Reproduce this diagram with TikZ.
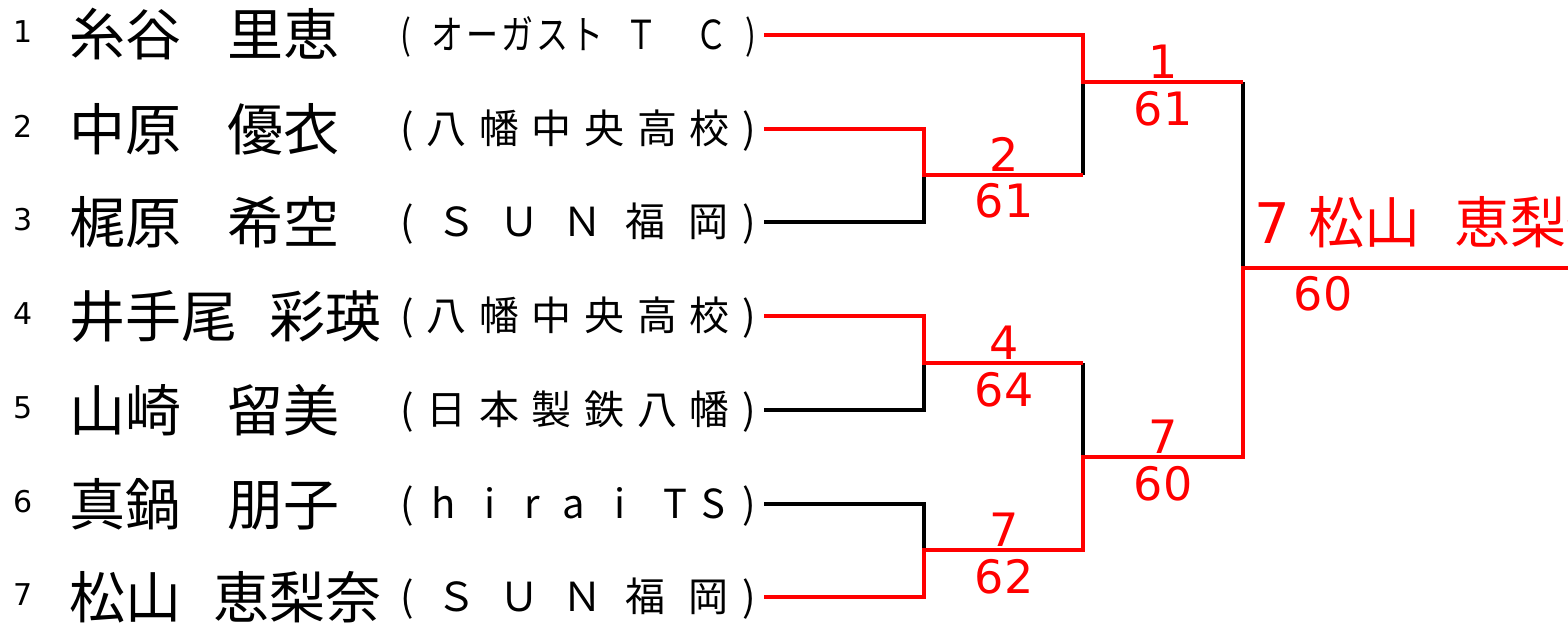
\documentclass[tikz,border=0pt]{standalone}
\usepackage{fontspec}
\usepackage{graphicx}
\usepackage{tikz}
\usetikzlibrary{positioning}
\newfontfamily\jpfont{Noto Sans CJK JP}
\newfontfamily\numfont{DejaVu Sans}
\newcommand{\gp}[1]{\hskip 0pt plus #1fil}
\newcommand{\clubbox}[1]{\makebox[356pt][s]{#1}}
\tikzstyle{seed}=[anchor=base, inner sep=0pt, font=\numfont\fontsize{30}{30}\selectfont]
\tikzstyle{player}=[anchor=base west, inner sep=0pt, font=\jpfont\fontsize{56}{56}\selectfont]
\tikzstyle{club}=[anchor=base west, inner sep=0pt, font=\jpfont\fontsize{40}{40}\selectfont]
\tikzstyle{score}=[anchor=base, inner sep=0pt, text=red, font=\numfont\fontsize{46}{46}\selectfont]
\tikzstyle{won}=[draw=red, line width=3.5pt, line join=miter]
\tikzstyle{lost}=[draw=black, line width=3.5pt, line join=miter]

\begin{document}
\begin{tikzpicture}[x=1pt, y=-1pt]
\useasboundingbox (0,0) rectangle (1568,626);
\clip (0,0) rectangle (1568,626);

\node[seed] (n1) at (23,43) {1};
\node[seed] (n2) at (23,137) {2};
\node[seed] (n3) at (23,230) {3};
\node[seed] (n4) at (23,324) {4};
\node[seed] (n5) at (23,418) {5};
\node[seed] (n6) at (23,512) {6};
\node[seed] (n7) at (23,605) {7};

\node[player] (p1) at (69,56) {糸谷\hspace{46pt}里恵};
\node[player] (p2) at (69,150) {中原\hspace{46pt}優衣};
\node[player] (p3) at (69,243) {梶原\hspace{46pt}希空};
\node[player] (p4) at (69,337) {井手尾\hspace{32pt}彩瑛};
\node[player] (p5) at (69,431) {山崎\hspace{46pt}留美};
\node[player] (p6) at (69,525) {真鍋\hspace{46pt}朋子};
\node[player] (p7) at (69,618) {松山\hspace{32pt}恵梨奈};

\node[club] (c1) at (400,49) {\scalebox{0.8}[1]{\makebox[445pt][s]{(\gp{7}オ\gp1ー\gp1ガ\gp1ス\gp1ト\gp{7.3}Ｔ\gp{12.7}Ｃ\gp6)}}};
\node[club] (c2) at (400,143) {\clubbox{(\gp1八\gp1幡\gp1中\gp1央\gp1高\gp1校\gp1)}};
\node[club] (c3) at (400,236) {\clubbox{(\gp1Ｓ\gp1Ｕ\gp1Ｎ\gp1福\gp1岡\gp{0.6})}};
\node[club] (c4) at (400,330) {\clubbox{(\gp1八\gp1幡\gp1中\gp1央\gp1高\gp1校\gp1)}};
\node[club] (c5) at (400,424) {\clubbox{(\gp1日\gp1本\gp1製\gp1鉄\gp1八\gp1幡\gp1)}};
\node[club] (c6) at (400,518) {\clubbox{(\gp{0.6}h\gp1i\gp1r\gp{0.8}a\gp1i\gp{1.3}T\gp{0.5}S\gp{0.6})}};
\node[club] (c7) at (400,611) {\clubbox{(\gp1Ｓ\gp1Ｕ\gp1Ｎ\gp1福\gp1岡\gp{0.6})}};

% line starts
\coordinate (s1) at (764,35);
\coordinate (s2) at (764,129);
\coordinate (s3) at (764,222);
\coordinate (s4) at (764,316);
\coordinate (s5) at (764,410);
\coordinate (s6) at (764,504);
\coordinate (s7) at (764,597);
% first round
\coordinate (b2) at (924,129);
\coordinate (b3) at (924,222);
\coordinate (b4) at (924,316);
\coordinate (b5) at (924,410);
\coordinate (b6) at (924,504);
\coordinate (b7) at (924,597);
\coordinate (m23) at (924,175);
\coordinate (m45) at (924,363);
\coordinate (m67) at (924,550);
\coordinate (e23) at (1083,175);
\coordinate (e45) at (1083,363);
\coordinate (e67) at (1083,550);
% second round
\coordinate (b1) at (1083,35);
\coordinate (m1) at (1083,82);
\coordinate (m47) at (1083,457);
\coordinate (e1) at (1243,82);
\coordinate (e47) at (1243,457);
% final
\coordinate (mf) at (1243,268);
\coordinate (fin) at (1568,268);

\draw[lost] (s3) -- (b3) -- (m23);
\draw[lost] (s5) -- (b5) -- (m45);
\draw[lost] (s6) -- (b6) -- (m67);
\draw[lost] (m1) -- (e23);
\draw[lost] (e45) -- (m47);
\draw[lost] (e1) -- (mf);

\draw[won] (s1) -- (b1) -- (m1) -- (e1);
\draw[won] (s2) -- (b2) -- (m23) -- (e23);
\draw[won] (s4) -- (b4) -- (m45) -- (e45);
\draw[won] (s7) -- (b7) -- (m67) -- (e67) -- (m47) -- (e47) -- (mf) -- (fin);

\node[score] (w23) at (1004,171) {2};
\node[score] (r23) at (1004,217) {61};
\node[score] (w45) at (1004,359) {4};
\node[score] (r45) at (1004,406) {64};
\node[score] (w67) at (1004,546) {7};
\node[score] (r67) at (1004,593) {62};
\node[score] (w1) at (1163,78) {1};
\node[score] (r1) at (1163,125) {61};
\node[score] (w47) at (1163,453) {7};
\node[score] (r47) at (1163,500) {60};
\node[score] (rf) at (1323,310) {60};

\node[anchor=base west, inner sep=0pt, text=red, font=\jpfont\fontsize{56}{56}\selectfont] (champ) at (1254,243) {{\numfont 7}\hspace{19pt}松山\hspace{34pt}恵梨奈};
\end{tikzpicture}
\end{document}
